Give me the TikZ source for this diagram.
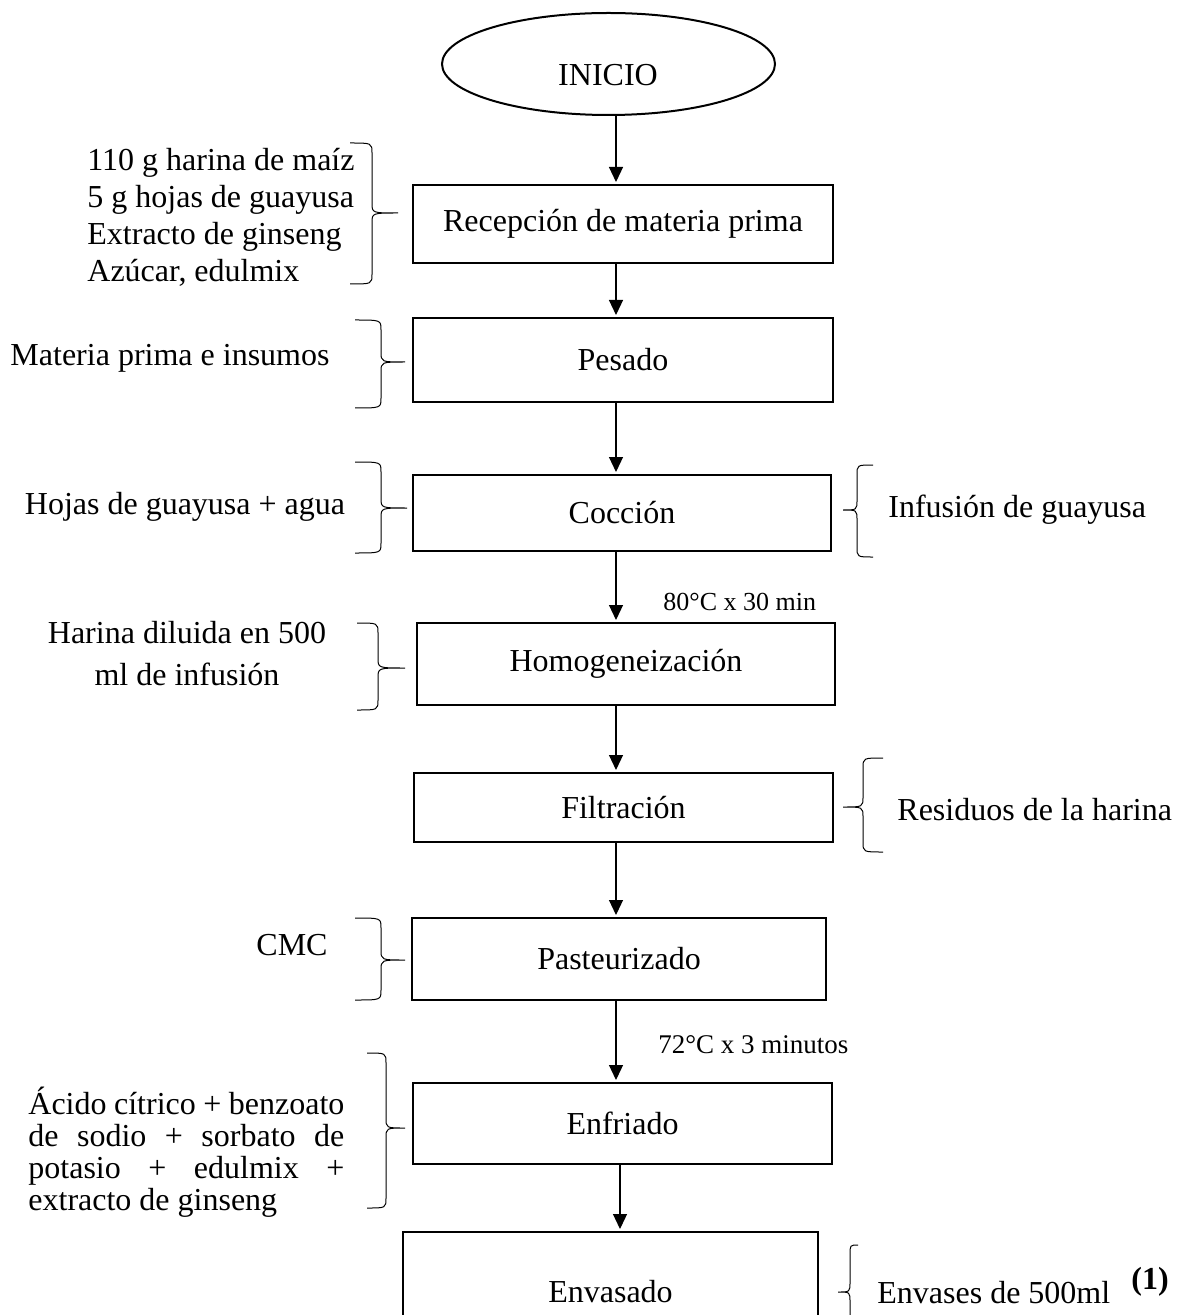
\documentclass[tikz,border=0pt]{standalone}
\usepackage{fontspec}
\setmainfont{Liberation Serif}
\usetikzlibrary{positioning, arrows.meta, shapes.geometric}
\tikzset{
caja/.style={draw, line width=1pt, inner sep=0pt, font=\fontsize{16}{18.5}\selectfont},
texto/.style={inner sep=0pt, font=\fontsize{16}{18.5}\selectfont},
nota/.style={inner sep=0pt, anchor=west, font=\fontsize{13}{15}\selectfont},
flecha/.style={-{Triangle[width=7pt,length=7.5pt]}, line width=0.6pt, shorten >=1pt},
llave/.style={line width=0.5pt},
}
% brace: end x, stem x, tip x, top y, tip y, bottom y
\newcommand{\llave}[6]{%
  \draw[llave] (#1,#4) .. controls (#2,#4) .. (#2,#4+10) -- (#2,#5-10)
               .. controls (#2,#5) .. (#3,#5) .. controls (#2,#5) .. (#2,#5+10)
               -- (#2,#6-10) .. controls (#2,#6) .. (#1,#6);}

\begin{document}
\begin{tikzpicture}[x=0.5pt, y=-0.5pt]
    \useasboundingbox (0,0) rectangle (1186,1315);
    \coordinate (eje)  at (616,0);  % axis of the arrows
    \coordinate (eje2) at (620,0);

    %main column
    \node[draw, ellipse, line width=1pt, minimum width=166.5pt, minimum height=51pt] (inicio) at (608.5,64) { };
    \node[texto] (tinicio) at (608,75) {INICIO};
    \node[caja, minimum width=210pt, minimum height=39pt]   (recep)   at (623,224)    {Recepción de materia prima};
    \node[caja, minimum width=210pt, minimum height=42pt]   (pesado)  at (623,360)    {Pesado};
    \node[caja, minimum width=209pt, minimum height=38pt]   (coccion) at (622,513)    {Cocción};
    \node[caja, minimum width=209pt, minimum height=41pt]   (homog)   at (626,664)    {Homogeneización};
    \node[caja, minimum width=209.5pt, minimum height=34.5pt] (filtr) at (623.5,807.5) {Filtración};
    \node[caja, minimum width=207pt, minimum height=41pt]   (pasteur) at (619,959)    {Pasteurizado};
    \node[caja, minimum width=209.5pt, minimum height=40.5pt] (enfr)  at (622.5,1123.5) {Enfriado};
    \node[caja, minimum width=207.5pt, minimum height=60pt] (envas)   at (610.5,1292) {Envasado};

    %arrows
    \draw[flecha] (inicio.south -| eje) -- (recep.north -| eje);
    \draw[flecha] (recep.south -| eje)   -- (pesado.north -| eje);
    \draw[flecha] (pesado.south -| eje)  -- (coccion.north -| eje);
    \draw[flecha] (coccion.south -| eje) -- (homog.north -| eje);
    \draw[flecha] (homog.south -| eje)   -- (filtr.north -| eje);
    \draw[flecha] (filtr.south -| eje)   -- (pasteur.north -| eje);
    \draw[flecha] (pasteur.south -| eje) -- (enfr.north -| eje);
    \draw[flecha] (enfr.south -| eje2)   -- (envas.north -| eje2);

    \node[nota] (temp1) at (663,602)  {80°C x 30 min};
    \node[nota, font=\fontsize{13.5}{15}\selectfont] (temp2) at (658,1045) {72°C x 3 minutos};

    %inputs on the left
    \node[texto, anchor=west, align=left] (ingr) at (87,217)
        {110 g harina de maíz\\5 g hojas de guayusa\\Extracto de ginseng\\Azúcar, edulmix};
    \node[texto] (insumos) at (170,358) {Materia prima e insumos};
    \node[texto] (hojas)   at (185,507) {Hojas de guayusa + agua};
    \node[texto, align=center, font=\fontsize{16}{21}\selectfont] (harina) at (187,654)
        {Harina diluida en 500\\ml de infusión};
    \node[texto] (cmc) at (292,945) {CMC};
    \node[texto, anchor=west, align=left, font=\fontsize{16}{16}\selectfont] (aditivos) at (28,1152)
        {\makebox[158pt][s]{Ácido cítrico + benzoato}\\
         \makebox[158pt][s]{de sodio + sorbato de}\\
         \makebox[158pt][s]{potasio + edulmix +}\\
         extracto de ginseng};

    %outputs on the right
    \node[texto, anchor=west] (infusion) at (888,510)  {Infusión de guayusa};
    \node[texto, anchor=west] (residuos) at (897,810)  {Residuos de la harina};
    \node[texto, anchor=west] (envases)  at (877,1293) {Envases de 500ml};
    \node[texto, font=\fontsize{16}{18.5}\selectfont\bfseries] (num) at (1150,1282) {(1)};

    % braces
    \llave{350}{372}{398}{143}{213}{284}
    \llave{355}{381}{405}{320}{362}{408}
    \llave{355}{381}{407}{462}{508}{553}
    \llave{357}{378}{405}{623}{668}{710}
    \llave{355}{381}{405}{918}{960}{1000}
    \llave{367}{386}{405}{1053}{1128}{1208}
    \llave{873}{857}{843}{465}{510}{557}
    \llave{883}{863}{843}{758}{807}{852}
    \llave{858}{850}{838}{1245}{1292}{1340}

\end{tikzpicture}
\end{document}
